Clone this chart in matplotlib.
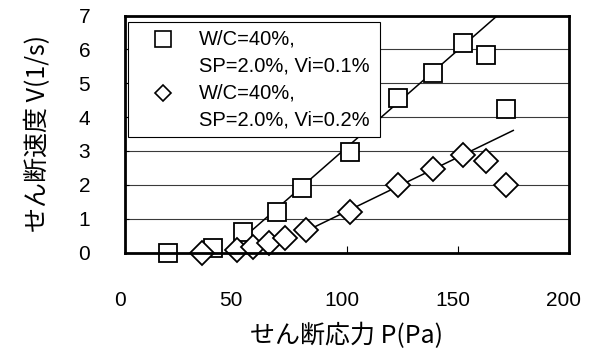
import numpy as np
import matplotlib
matplotlib.use("Agg")
import matplotlib.pyplot as plt
from matplotlib.patches import Rectangle
from matplotlib.lines import Line2D
from matplotlib.transforms import ScaledTranslation

# W/C=40%, SP=2.0%, Vi=0.1%  (squares)
sq_p = [19.3, 39.8, 53.2, 68.4, 79.7, 101.3, 123.1, 139.1, 152.6, 162.7, 171.7]
sq_v = [0.00, 0.14, 0.60, 1.20, 1.91, 2.97, 4.56, 5.30, 6.19, 5.83, 4.25]
# W/C=40%, SP=2.0%, Vi=0.2%  (diamonds)
di_p = [34.7, 50.7, 57.5, 64.9, 72.2, 81.6, 101.3, 123.0, 139.1, 152.6, 162.7, 171.7]
di_v = [0.00, 0.07, 0.15, 0.29, 0.44, 0.65, 1.21, 1.99, 2.46, 2.88, 2.70, 1.99]

# points used for the straight lines and the span they are drawn over
sq_fit_idx = slice(2, 9)
sq_fit_range = (55, 176)
di_fit_idx = slice(5, 10)
di_fit_range = (81, 175.1)

labels = ["W/C=40%,", "SP=2.0%, Vi=0.1%", "W/C=40%,", "SP=2.0%, Vi=0.2%"]
xticks = [0, 50, 100, 150, 200]
yticks = [0, 1, 2, 3, 4, 5, 6, 7]

LAT = "Liberation Sans"
JP = ["Noto Sans CJK JP", "DejaVu Sans"]

fig = plt.figure(figsize=(5.95, 3.51), dpi=100)
ax = fig.add_axes([125 / 595, 1 - 252.5 / 351, 443.5 / 595, 237 / 351])

for y in yticks[1:-1]:
    ax.axhline(y, color="#3a3a3a", lw=0.8, zorder=1)

def fit_line(px, pv, idx, rng):
    a, b = np.polyfit(np.array(px)[idx], np.array(pv)[idx], 1)
    xx = np.array(rng)
    ax.plot(xx, a * xx + b, color="black", lw=1.1, zorder=2)

fit_line(sq_p, sq_v, sq_fit_idx, sq_fit_range)
fit_line(di_p, di_v, di_fit_idx, di_fit_range)

ax.plot(sq_p, sq_v, ls="none", marker="s", ms=13, mfc="white", mec="black", mew=1.3, zorder=3, clip_on=False)
ax.plot(di_p, di_v, ls="none", marker="D", ms=12.5, mfc="white", mec="black", mew=1.3, zorder=3, clip_on=False)

ax.set_xlim(0, 200)
ax.set_ylim(0, 7)
ax.set_xticks(xticks)
ax.set_yticks(yticks)
ax.tick_params(axis="x", direction="in", length=5, width=0.8, pad=28, labelsize=15)
ax.tick_params(axis="y", direction="in", length=3, width=0.8, pad=25, labelsize=15)
for lab in ax.get_xticklabels() + ax.get_yticklabels():
    lab.set_fontfamily(LAT)
off = ScaledTranslation(-5 / 100, 0, fig.dpi_scale_trans)
for lab in ax.get_xticklabels():
    lab.set_transform(lab.get_transform() + off)
for s in ax.spines.values():
    s.set_linewidth(2.0)
    s.set_zorder(6)

ax.set_xlabel("せん断応力 P(Pa)", family=JP, fontsize=18, labelpad=9)
ax.set_ylabel("せん断速度 V(1/s)", family=JP, fontsize=18, labelpad=20)

# legend box
ax.add_patch(Rectangle((0.006, 0.4886), 0.569, 0.4824, transform=ax.transAxes,
                       facecolor="white", edgecolor="black", lw=0.8, zorder=5))
ys = [0.9008, 0.7880, 0.6717, 0.5591]
for y, t in zip(ys, labels):
    ax.text(0.1669, y, t, transform=ax.transAxes, family=LAT, fontsize=14.5,
            va="center", ha="left", zorder=7)
ax.add_line(Line2D([0.0857], [ys[0]], transform=ax.transAxes, marker="s", ms=12,
                   mfc="white", mec="black", mew=1.2, ls="none", zorder=7))
ax.add_line(Line2D([0.0857], [ys[2]], transform=ax.transAxes, marker="D", ms=8.5,
                   mfc="white", mec="black", mew=1.2, ls="none", zorder=7))

fig.savefig("out.png", dpi=100)
